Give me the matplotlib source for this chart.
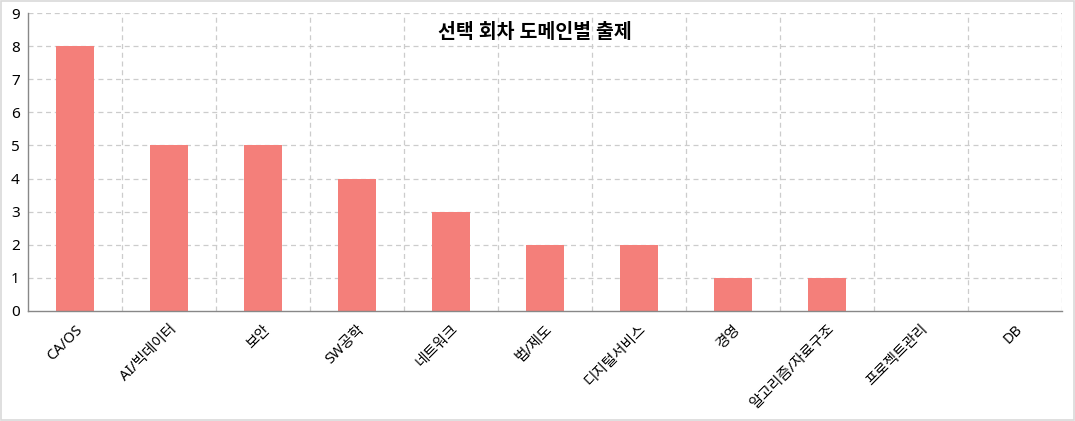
import numpy as np
import matplotlib.pyplot as plt
from matplotlib.patches import Rectangle

plt.rcParams['font.family'] = ['Noto Sans', 'Noto Sans CJK KR', 'DejaVu Sans']

categories = ['CA/OS', 'AI/빅데이터', '보안', 'SW공학', '네트워크', '법/제도',
              '디지털서비스', '경영', '알고리즘/자료구조', '프로젝트관리', 'DB']
counts = [8, 5, 5, 4, 3, 2, 2, 1, 1, 0, 0]
title = '선택 회차 도메인별 출제'

fig = plt.figure(figsize=(10.75, 4.21), dpi=100)
ax = fig.add_axes([28 / 1075, 1 - 311 / 421, (1062 - 28) / 1075, (311 - 13) / 421])

x = np.arange(len(categories))
ax.bar(x, counts, width=0.4, color='#f47f7a', zorder=2)

ax.set_xlim(-0.5, len(categories) - 0.5)
ax.set_ylim(0, 9)
ax.set_yticks(range(10))
ax.set_xticks(x)
ax.set_xticklabels(categories, rotation=45, ha='right', rotation_mode='anchor', fontsize=10.5)
ax.tick_params(axis='y', labelsize=11, length=0, pad=6)
ax.tick_params(axis='x', length=0, pad=8)

# dashed grid: horizontal at integers, vertical between categories
for v in range(1, 10):
    ax.axhline(v, color='#cccccc', linestyle=(0, (4, 3)), linewidth=0.9, zorder=1)
for b in np.arange(0.5, len(categories), 1.0):
    ax.axvline(b, color='#cccccc', linestyle=(0, (4, 3)), linewidth=0.9, zorder=1)

for s in ['top', 'right']:
    ax.spines[s].set_visible(False)
for s in ['left', 'bottom']:
    ax.spines[s].set_color('#888888')
    ax.spines[s].set_linewidth(1.0)

ax.text(0.49, 0.965, title, transform=ax.transAxes, ha='center', va='top',
        fontsize=14, fontweight='bold')

# light frame around the whole picture
fig.patches.append(Rectangle((0.001, 0.002), 0.998, 0.996, transform=fig.transFigure,
                             fill=False, edgecolor='#d9d9d9', linewidth=1.2))

fig.savefig('out.png', dpi=100)
